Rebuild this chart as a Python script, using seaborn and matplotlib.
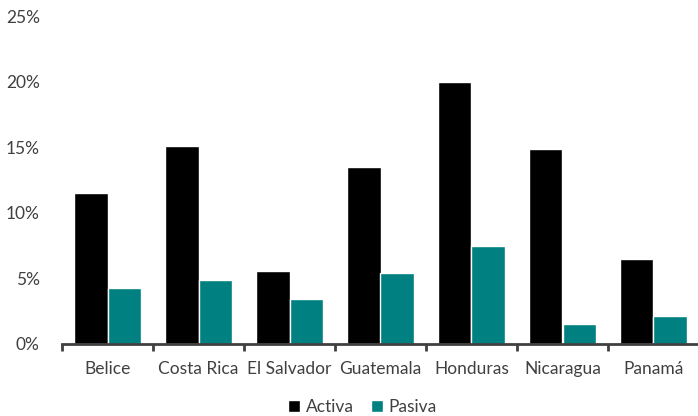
import numpy as np
import pandas as pd
import matplotlib
matplotlib.use('Agg')
import matplotlib.pyplot as plt
from matplotlib.lines import Line2D
import seaborn as sns

# Datos
paises = ['Belice', 'Costa Rica', 'El Salvador', 'Guatemala', 'Honduras', 'Nicaragua', 'Panamá']
activa = [11.5, 15.1, 5.6, 13.5, 20.0, 14.9, 6.5]
pasiva = [4.3, 4.9, 3.4, 5.4, 7.5, 1.5, 2.1]
series = ['Activa', 'Pasiva']
colores = ['#000000', '#008080']

df = pd.DataFrame({'pais': paises * 2,
                   'tipo': ['Activa'] * len(paises) + ['Pasiva'] * len(paises),
                   'valor': activa + pasiva})

sns.set_style('white')
plt.rcParams['font.family'] = ['Lato', 'DejaVu Sans']

fig = plt.figure(figsize=(6.98, 4.16), dpi=100)
ax = fig.add_axes([62 / 698, 72 / 416, 637 / 698, 328 / 416])

sns.barplot(data=df, x='pais', y='valor', hue='tipo', hue_order=series,
            palette=colores, saturation=1, width=0.73, edgecolor='white', linewidth=1,
            ax=ax, legend=False)

ax.set_ylim(0, 25)
ax.set_xlim(-0.5, 6.5)
ax.set_yticks(np.arange(0, 26, 5))
ax.set_yticklabels([f'{v}%' for v in range(0, 26, 5)])
ax.tick_params(axis='y', length=0, labelsize=12.5, labelcolor='#404040', pad=16)

# ticks entre categorias (estilo Excel) y etiquetas en el centro
ax.set_xticks(np.arange(-0.5, 7, 1))
ax.set_xticklabels([])
ax.set_xticks(np.arange(7), minor=True)
ax.set_xticklabels(paises, minor=True)
ax.tick_params(axis='x', which='both', bottom=True)
ax.tick_params(axis='x', which='major', length=5, width=2, color='#404040', direction='out')
ax.tick_params(axis='x', which='minor', length=0, labelsize=12.5, labelcolor='#404040', pad=12)

ax.set_xlabel('')
ax.set_ylabel('')
for s in ['top', 'right', 'left']:
    ax.spines[s].set_visible(False)
ax.spines['bottom'].set_color('#404040')
ax.spines['bottom'].set_linewidth(2)

handles = [Line2D([0], [0], marker='s', color='w', markerfacecolor=c, markersize=8, label=l)
           for c, l in zip(colores, series)]
fig.legend(handles=handles, loc='center', bbox_to_anchor=(362 / 698, 1 - 407 / 416),
           ncol=2, frameon=False, fontsize=12.5, handlelength=0.8, handletextpad=0.3,
           columnspacing=0.9, labelcolor='#404040')

fig.savefig('out.png', dpi=100)
